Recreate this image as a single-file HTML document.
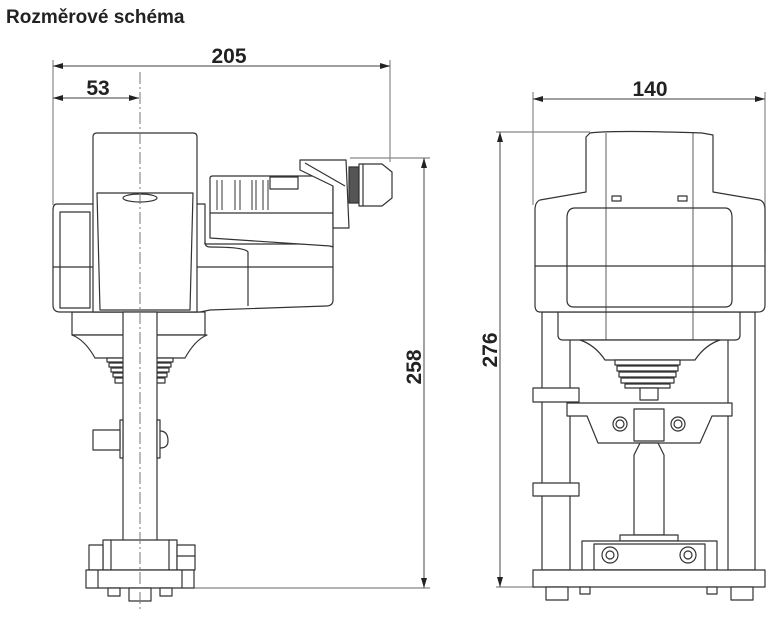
<!DOCTYPE html>
<html><head><meta charset="utf-8"><style>
html,body{margin:0;padding:0;background:#fff;width:784px;height:623px;overflow:hidden}
svg{display:block}
</style></head><body>
<svg width="784" height="623" viewBox="0 0 784 623" xmlns="http://www.w3.org/2000/svg">
<defs>
<marker id="a" viewBox="0 0 10 6" refX="10" refY="3" markerWidth="10" markerHeight="6" orient="auto-start-reverse" markerUnits="userSpaceOnUse"><path d="M0,0L10,3L0,6z" fill="#222"/></marker>
</defs>
<text x="6" y="23" font-family="Liberation Sans,sans-serif" font-weight="bold" font-size="19" fill="#222">Rozměrové schéma</text>
<g font-family="Liberation Sans,sans-serif" font-weight="bold" font-size="21" fill="#222" text-anchor="middle">
<text x="229" y="63">205</text>
<text x="98" y="95">53</text>
<text x="650" y="96">140</text>
<text transform="translate(421,367) rotate(-90)">258</text>
<text transform="translate(497,350) rotate(-90)">276</text>
</g>
<g stroke="#888" stroke-width="1.2" fill="none">
<line x1="53" y1="60" x2="53" y2="205"/>
<line x1="390" y1="60" x2="390" y2="162"/>
<line x1="53" y1="66" x2="390" y2="66" stroke="#666" marker-start="url(#a)" marker-end="url(#a)"/>
<line x1="53" y1="98" x2="139" y2="98" stroke="#666" marker-start="url(#a)" marker-end="url(#a)"/>
<line x1="350" y1="158" x2="430" y2="158"/>
<line x1="194" y1="588" x2="430" y2="588"/>
<line x1="424" y1="158" x2="424" y2="588" stroke="#666" marker-start="url(#a)" marker-end="url(#a)"/>
<line x1="533" y1="92" x2="533" y2="205"/>
<line x1="765" y1="92" x2="765" y2="250"/>
<line x1="533" y1="99" x2="765" y2="99" stroke="#666" marker-start="url(#a)" marker-end="url(#a)"/>
<line x1="496" y1="132" x2="590" y2="132"/>
<line x1="496" y1="587" x2="535" y2="587"/>
<line x1="500" y1="132" x2="500" y2="587" stroke="#666" marker-start="url(#a)" marker-end="url(#a)"/>
</g>
<!-- LEFT VIEW -->
<g stroke="#333" stroke-width="1.2" fill="#fff" stroke-linejoin="round">
<path d="M72,312 L72,335 L205,335 L205,312 Z"/>
<path d="M72,335 Q85,340 95,358 L185,358 Q195,340 207,335 Z"/>
<path d="M107,358 h66 v4 h-66z M109,363 h62 v4 h-62z M111,368 h58 v4 h-58z M113,373 h54 v4 h-54z M115,378 h50 v5 h-50z"/>
<path d="M57,204 L205,204 L205,244 L333,244 L333,300 Q333,306 326,306 L210,310 L200,312 L60,312 Q53,312 53,305 L53,210 Q53,204 57,204 Z"/>
<line x1="53" y1="267" x2="333" y2="267"/>
<path d="M60,212 h30 v96 h-30z" fill="none"/>
<path d="M205,244 v-2 Q205,247 210,247 Q245,247 248,252 L248,306" fill="none"/>
<path d="M93,137 Q93,133 97,133 L193,133 Q197,133 197,137 L197,312 L93,312 Z"/>
<path d="M97,193 L193,193 L190,310 L100,310 Z" fill="none"/>
<ellipse cx="140" cy="198" rx="17" ry="4" fill="none"/>
<path d="M210,178 Q210,176 213,176 L333,176 L333,247 L330,246 L210,238 Z"/>
<line x1="210" y1="213" x2="333" y2="213"/>
<path d="M217,180 v30 M222,180 v30 M235,180 v30 M240,180 v30 M252,180 v30 M256,180 v30 M263,180 v30 M268,180 v30" fill="none" stroke-width="1"/>
<rect x="270" y="177" width="28" height="12" fill="none"/>
<path d="M300,160 L346,160 L349,228 L333,228 L333,186 L300,170 Z"/>
<line x1="305" y1="163" x2="345" y2="186"/>
<rect x="349" y="167" width="10" height="36" fill="#555"/>
<path d="M359,164 L382,164 L392,172 L392,198 L382,206 L359,206 Z"/>
<line x1="363" y1="164" x2="363" y2="206"/>
<rect x="123" y="312" width="34" height="258"/>
<rect x="120" y="420" width="3" height="38"/>
<rect x="157" y="420" width="3" height="38"/>
<rect x="93" y="430" width="27" height="20"/>
<path d="M160,431 Q168,431 168,441 Q168,448 160,448" fill="none"/>
<rect x="103" y="540" width="74" height="30"/>
<line x1="111" y1="540" x2="111" y2="570"/><line x1="169" y1="540" x2="169" y2="570"/>
<rect x="89" y="545" width="14" height="25"/>
<rect x="177" y="545" width="18" height="25"/>
<line x1="177" y1="556" x2="195" y2="556"/>
<rect x="86" y="570" width="108" height="18"/>
<line x1="98" y1="570" x2="98" y2="588"/><line x1="182" y1="570" x2="182" y2="588"/>
<rect x="108" y="588" width="12" height="8"/>
<rect x="129" y="588" width="22" height="13"/>
<rect x="160" y="588" width="12" height="8"/>
</g>
<line x1="140" y1="72" x2="140" y2="612" stroke="#777" stroke-width="1" stroke-dasharray="12,3,2,3"/>
<!-- RIGHT VIEW -->
<g stroke="#333" stroke-width="1.2" fill="#fff" stroke-linejoin="round">
<rect x="542" y="312" width="28" height="258"/>
<rect x="728" y="312" width="27" height="258"/>
<rect x="533" y="388" width="46" height="14"/>
<rect x="533" y="483" width="46" height="13"/>
<path d="M558,312 L740,312 L740,335 Q740,340 735,340 L563,340 Q558,340 558,335 Z"/>
<path d="M580,340 Q595,345 605,360 L695,360 Q705,345 720,340 Z"/>
<path d="M615,360 h65 v5 h-65z M617,366 h61 v5 h-61z M619,372 h57 v5 h-57z M621,378 h53 v5 h-53z M625,384 h45 v4 h-45z"/>
<rect x="640" y="388" width="18" height="12"/>
<path d="M590,133 Q610,130 702,133 L713,135 L713,192 L760,200 Q765,202 765,210 L765,305 Q765,312 758,312 L540,312 Q535,312 535,305 L535,210 Q535,202 540,200 L586,192 L586,137 Z"/>
<line x1="535" y1="266" x2="765" y2="266"/>
<path d="M575,208 L725,208 Q732,208 732,218 L732,300 Q732,307 725,307 L574,307 Q567,307 567,300 L567,218 Q567,208 575,208 Z" fill="none"/>
<line x1="606" y1="133" x2="606" y2="340" stroke-width="0.8"/>
<line x1="693" y1="133" x2="693" y2="340" stroke-width="0.8"/>
<rect x="612" y="196" width="9" height="5" fill="none"/>
<rect x="678" y="196" width="9" height="5" fill="none"/>
<path d="M567,403 L732,403 L732,416 L712,416 L700,443 L598,443 L587,416 L567,416 Z"/>
<rect x="634" y="409" width="30" height="32"/>
<circle cx="620" cy="424" r="7"/><circle cx="620" cy="424" r="4"/>
<circle cx="678" cy="424" r="7"/><circle cx="678" cy="424" r="4"/>
<path d="M640,443 L634,455 L634,535 L664,535 L664,455 L658,443 Z"/>
<rect x="620" y="535" width="58" height="6"/>
<rect x="582" y="541" width="135" height="29"/>
<rect x="594" y="544" width="111" height="26" fill="none"/>
<circle cx="610" cy="555" r="8"/><circle cx="610" cy="555" r="4"/>
<circle cx="688" cy="555" r="8"/><circle cx="688" cy="555" r="4"/>
<rect x="533" y="570" width="232" height="17"/>
<rect x="546" y="587" width="22" height="13"/>
<rect x="580" y="587" width="10" height="7"/>
<rect x="707" y="587" width="10" height="7"/>
<rect x="731" y="587" width="22" height="13"/>
</g>
</svg>
</body></html>
